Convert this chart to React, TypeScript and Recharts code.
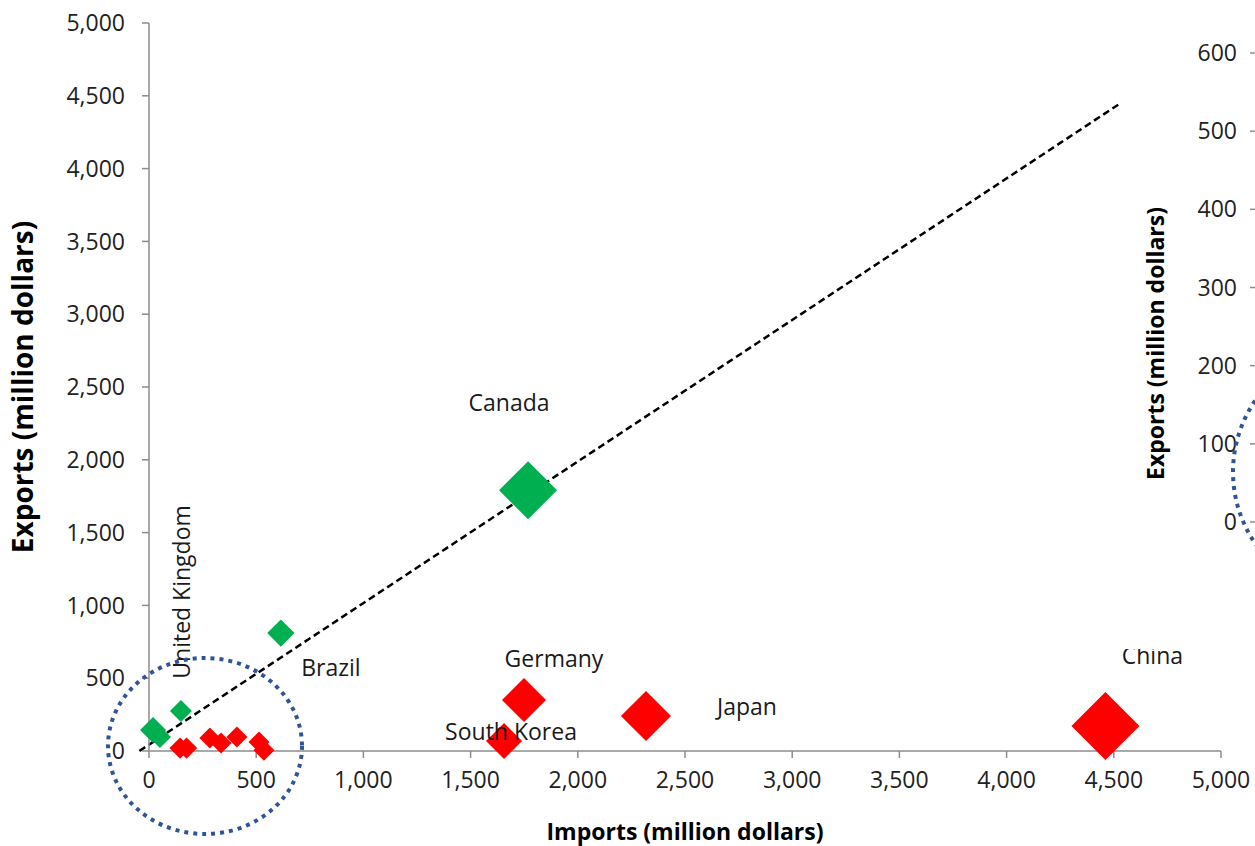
import React from 'react';
import {
  ScatterChart,
  Scatter,
  XAxis,
  YAxis,
  ZAxis,
  ReferenceLine,
} from 'recharts';

// exporters (green) and importers (red), values in million dollars
const GREEN_NAMES = ['', '', 'United Kingdom', 'Brazil', 'Canada'];
const GREEN_IMPORTS = [19, 51, 149, 615, 1768];
const GREEN_EXPORTS = [144, 96, 275, 810, 1791];
const GREEN_VOLUME = [670, 480, 480, 745, 3350];

const RED_NAMES = ['', '', '', '', '', '', '', 'South Korea', 'Germany', 'Japan', 'China'];
const RED_IMPORTS = [145, 175, 284, 336, 410, 513, 536, 1656, 1749, 2318, 4461];
const RED_EXPORTS = [20, 20, 90, 55, 96, 62, 5, 69, 350, 240, 172];
const RED_VOLUME = [450, 450, 440, 440, 440, 440, 440, 1290, 1925, 2490, 4600];

const TREND_X = [-45, 5000];
const TREND_Y = [0, 4905];

const MAIN_TICKS = [0, 500, 1000, 1500, 2000, 2500, 3000, 3500, 4000, 4500, 5000];
const ZOOM_TICKS = [0, 100, 200, 300, 400, 500, 600];

const FONT = '"Open Sans", sans-serif';
const AXIS_GRAY = '#8c8c8c';
const TICK_TEXT = '#222222';

// where each data label sits relative to its marker
const LABEL_OFFSET: Record<string, { dx: number; dy: number; angle?: number }> = {
  'United Kingdom': { dx: 0, dy: -119, angle: -90 },
  Brazil: { dx: 50, dy: 34 },
  Canada: { dx: -19, dy: -88 },
  Germany: { dx: 30, dy: -42 },
  'South Korea': { dx: 7, dy: -10 },
  Japan: { dx: 101, dy: -10 },
  China: { dx: 47, dy: -71 },
};

const build = (names: string[], xs: number[], ys: number[], zs: number[]) =>
  names.map((name, i) => ({ name, x: xs[i], y: ys[i], z: zs[i] }));

const greenData = build(GREEN_NAMES, GREEN_IMPORTS, GREEN_EXPORTS, GREEN_VOLUME);
const redData = build(RED_NAMES, RED_IMPORTS, RED_EXPORTS, RED_VOLUME);
const zoomData = [...greenData, ...redData].filter(d => d.x <= 600);

const fmt = (v: number) => v.toLocaleString('en-US');

// marker area grows with trade volume, China ~34px half-diagonal
const MAX_R = 35.45;

const Diamond = (props: any) => {
  const { cx, cy, width, fill, payload } = props;
  const r = width / 2;
  const off = payload && payload.name ? LABEL_OFFSET[payload.name] : null;
  return (
    <g>
      <polygon
        points={`${cx},${cy - r} ${cx + r},${cy} ${cx},${cy + r} ${cx - r},${cy}`}
        fill={fill}
      />
      {off && (
        <text
          x={cx + off.dx}
          y={cy + off.dy}
          textAnchor="middle"
          dominantBaseline="central"
          fontSize={23}
          fill="#1a1a1a"
          transform={off.angle ? `rotate(${off.angle} ${cx + off.dx} ${cy + off.dy})` : undefined}
        >
          {payload.name}
        </text>
      )}
    </g>
  );
};

const verticalTitle = (text: string, dx: number, dy: number, size: number) => (props: any) => {
  const vb = props.viewBox;
  const x = vb.x + dx;
  const y = vb.y + vb.height / 2 + dy;
  return (
    <text
      x={x}
      y={y}
      textAnchor="middle"
      dominantBaseline="central"
      fontWeight="bold"
      fontSize={size}
      fill="#000"
      transform={`rotate(-90 ${x} ${y})`}
    >
      {text}
    </text>
  );
};

const xTitle = (props: any) => {
  const vb = props.viewBox;
  return (
    <text
      x={vb.x + vb.width / 2}
      y={vb.y + 80}
      textAnchor="middle"
      dominantBaseline="central"
      fontWeight="bold"
      fontSize={23}
      fill="#000"
    >
      Imports (million dollars)
    </text>
  );
};

const App = () => {
  return (
    <div
      style={{
        position: 'absolute',
        left: 0,
        top: 0,
        width: 1255,
        height: 846,
        overflow: 'hidden',
        background: '#fff',
        fontFamily: FONT,
      }}
    >
      <ScatterChart width={1255} height={846} margin={{ top: 23, right: 34, bottom: 0, left: 0 }}>
        <XAxis
          type="number"
          dataKey="x"
          domain={[0, 5000]}
          ticks={MAIN_TICKS}
          tickFormatter={fmt}
          height={95}
          tickSize={7}
          tickMargin={14}
          axisLine={{ stroke: AXIS_GRAY, strokeWidth: 1.5 }}
          tickLine={{ stroke: AXIS_GRAY, strokeWidth: 1.5 }}
          tick={{ fill: TICK_TEXT, fontSize: 23 }}
          label={xTitle}
        />
        <YAxis
          type="number"
          dataKey="y"
          domain={[0, 5000]}
          ticks={MAIN_TICKS}
          tickFormatter={fmt}
          width={149}
          tickSize={7}
          tickMargin={17}
          axisLine={{ stroke: AXIS_GRAY, strokeWidth: 1.5 }}
          tickLine={{ stroke: AXIS_GRAY, strokeWidth: 1.5 }}
          tick={{ fill: TICK_TEXT, fontSize: 23 }}
          label={verticalTitle('Exports (million dollars)', 22, 0, 28)}
        />
        <ZAxis type="number" dataKey="z" domain={[0, 5000]} range={[0, Math.PI * MAX_R * MAX_R]} />
        <Scatter data={greenData} fill="#00B050" shape={Diamond} isAnimationActive={false} />
        <Scatter data={redData} fill="#FF0000" shape={Diamond} isAnimationActive={false} />
        <ReferenceLine
          segment={[
            { x: TREND_X[0], y: TREND_Y[0] },
            { x: TREND_X[1], y: TREND_Y[1] },
          ]}
          ifOverflow="visible"
          stroke="#000"
          strokeWidth={2.5}
          strokeDasharray="7 4"
        />
      </ScatterChart>

      {/* second (zoomed) chart, only its left edge is in view */}
      <div
        style={{
          position: 'absolute',
          left: 1120,
          top: 0,
          width: 500,
          height: 649,
          background: '#fff',
        }}
      >
        <ScatterChart width={500} height={649} margin={{ top: 53, right: 20, bottom: 127, left: 0 }}>
          <XAxis type="number" dataKey="x" domain={[0, 600]} hide />
          <YAxis
            type="number"
            dataKey="y"
            domain={[0, 600]}
            ticks={ZOOM_TICKS}
            width={136}
            tickSize={6}
            tickMargin={13}
            axisLine={{ stroke: AXIS_GRAY, strokeWidth: 1.5 }}
            tickLine={{ stroke: AXIS_GRAY, strokeWidth: 1.5 }}
            tick={{ fill: TICK_TEXT, fontSize: 23 }}
            label={verticalTitle('Exports (million dollars)', 35, 56, 23)}
          />
          <Scatter data={zoomData} fill="#FF0000" isAnimationActive={false} />
        </ScatterChart>
      </div>

      <svg
        width={1255}
        height={846}
        style={{ position: 'absolute', left: 0, top: 0, pointerEvents: 'none' }}
      >
        <ellipse cx={205} cy={746} rx={97} ry={88} fill="none" stroke="#2F5597" strokeWidth={4} strokeDasharray="4 5" />
        <ellipse cx={1363} cy={472} rx={130} ry={128} fill="none" stroke="#2F5597" strokeWidth={4} strokeDasharray="4 5" />
      </svg>
    </div>
  );
};

export default App;
